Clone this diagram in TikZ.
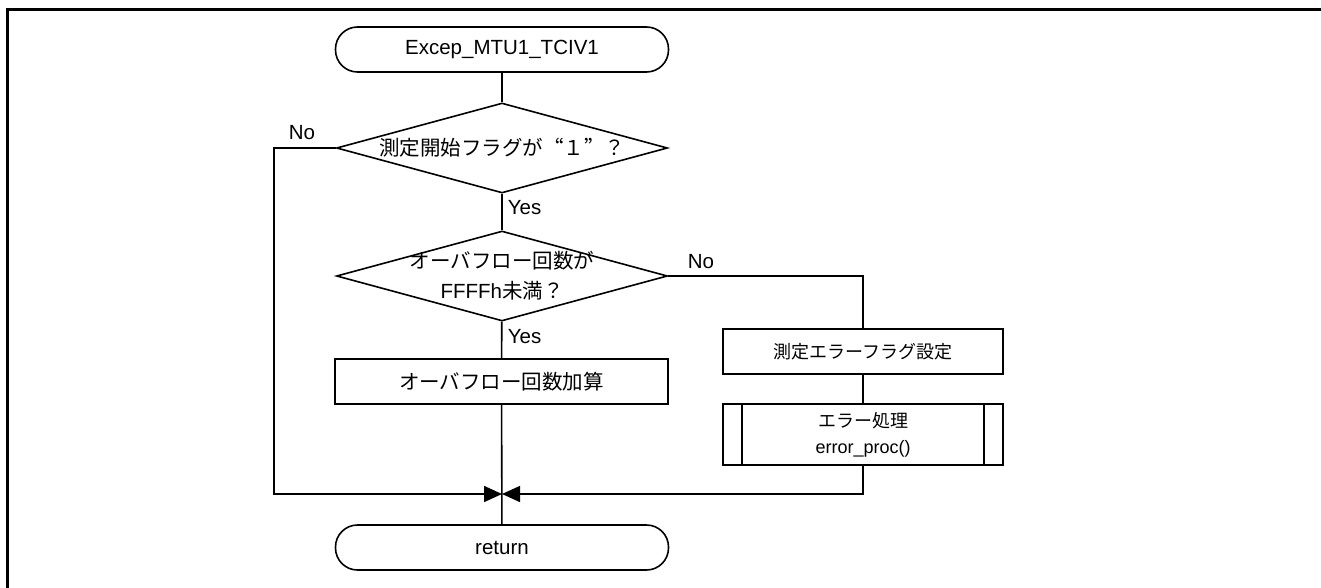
\documentclass[tikz,border=0pt]{standalone}
\usepackage{fontspec}
\setmainfont{Liberation Sans}
\newfontfamily\jp{Noto Sans CJK JP}
\usetikzlibrary{shapes.geometric,arrows.meta}
\newcommand\fullwidth[1]{{\addfontfeatures{RawFeature=+fwid}#1}}
\begin{document}
\begin{tikzpicture}[x=1pt,y=-1pt,
  line width=1.6pt,
  every node/.style={font=\fontsize{20.5}{30}\selectfont},
  term/.style={draw, rectangle, rounded corners=22pt, minimum width=333pt, minimum height=45pt, inner sep=0pt},
  dec/.style={draw, diamond, minimum width=331pt, minimum height=90pt, inner sep=0pt},
  proc/.style={draw, rectangle, minimum width=333pt, minimum height=45pt, inner sep=0pt},
  rproc/.style={draw, rectangle, minimum width=280pt, minimum height=45pt, inner sep=0pt, font=\fontsize{18}{26}\selectfont},
  lbl/.style={inner sep=0pt},
  flow/.style={-{Triangle[length=18pt,width=16pt]}},
]
\useasboundingbox (0,0) rectangle (1321,588);

% frame
\draw[line width=3pt] (7.5,588) -- (7.5,10) -- (1321,10);

% nodes
\node[term] (start) at (502,49.5) {Excep\_MTU1\_TCIV1};
\node[dec, label={[lbl]center:{\jp 測定開始フラグが\fullwidth{“１”}？}}] (d1) at (502,148) {};
\node[dec, label={[lbl,align=center]center:{{\jp オーバフロー回数が}\\FFFFh{\jp 未満？}}}] (d2) at (502,276) {};
\node[proc] (p1) at (501.5,381.5) {\jp オーバフロー回数加算};
\node[rproc] (p2) at (863,351.5) {\jp 測定エラーフラグ設定};
\node[rproc, minimum height=61pt, align=center] (sub) at (863,434.5) {{\jp エラー処理}\\error\_proc()};
\node[term] (ret) at (502,547.5) {return};
\coordinate (m) at (502,494);

% subroutine side bars
\draw ([xshift=20pt]sub.north west) -- ([xshift=20pt]sub.south west);
\draw ([xshift=-20pt]sub.north east) -- ([xshift=-20pt]sub.south east);

% connectors
\draw (start) -- (d1);
\draw (d1) -- (d2);
\draw (d2) -- (p1);
\draw (p1) -- (ret);
\draw[flow] (d1.west) -- ++(-62,0) |- (m);
\draw (d2.east) -| (p2.north);
\draw (p2) -- (sub);
\draw[flow] (sub.south) |- (m);

% branch labels
\node[lbl] (n1) at (302,133) {No};
\node[lbl, anchor=west] (y1) at (507,208) {Yes};
\node[lbl] (n2) at (701,262) {No};
\node[lbl, anchor=west] (y2) at (507,337) {Yes};
\end{tikzpicture}
\end{document}
